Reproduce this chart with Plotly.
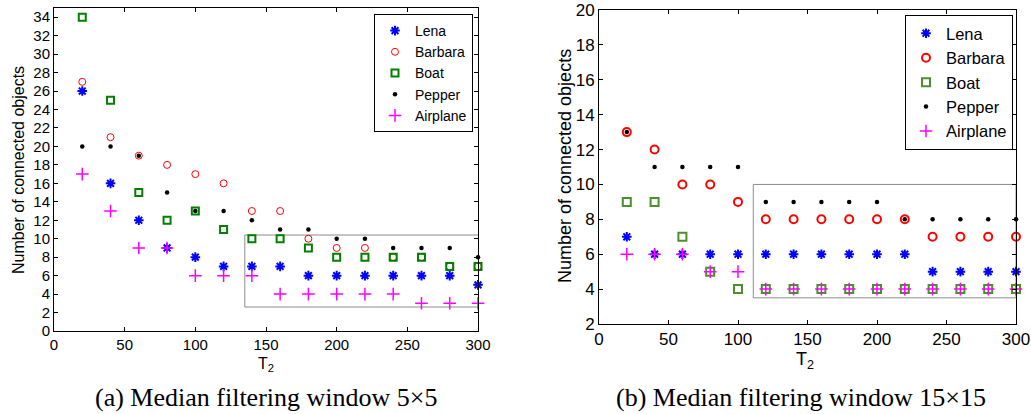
import plotly.graph_objects as go

# ---------------- data ----------------
t2 = [20, 40, 60, 80, 100, 120, 140, 160, 180, 200, 220, 240, 260, 280, 300]

# (a) Median filtering window 5x5
a_lena     = [26, 16, 12, 9, 8, 7, 7, 7, 6, 6, 6, 6, 6, 6, 5]
a_barbara  = [27, 21, 19, 18, 17, 16, 13, 13, 10, 9, 9, 8, 8, 7, 7]
a_boat     = [34, 25, 15, 12, 13, 11, 10, 10, 9, 8, 8, 8, 8, 7, 7]
a_pepper   = [20, 20, 19, 15, 13, 13, 12, 11, 11, 10, 10, 9, 9, 9, 8]
a_airplane = [17, 13, 9, 9, 6, 6, 6, 4, 4, 4, 4, 4, 3, 3, 3]

# (b) Median filtering window 15x15
b_lena     = [7, 6, 6, 6, 6, 6, 6, 6, 6, 6, 6, 5, 5, 5, 5]
b_barbara  = [13, 12, 10, 10, 9, 8, 8, 8, 8, 8, 8, 7, 7, 7, 7]
b_boat     = [9, 9, 7, 5, 4, 4, 4, 4, 4, 4, 4, 4, 4, 4, 4]
b_pepper   = [13, 11, 11, 11, 11, 9, 9, 9, 9, 9, 8, 8, 8, 8, 8]
b_airplane = [6, 6, 6, 5, 5, 4, 4, 4, 4, 4, 4, 4, 4, 4, 4]

names = ["Lena", "Barbara", "Boat", "Pepper", "Airplane"]
x_ticks = [0, 50, 100, 150, 200, 250, 300]
a_y_ticks = list(range(0, 35, 2))
b_y_ticks = list(range(2, 21, 2))

captions = ["(a) Median filtering window 5×5", "(b) Median filtering window 15×15"]

# zoom boxes drawn on the panels (x0, x1, y0, y1)
a_box = (135, 302, 2.6, 10.4)
b_box = (111, 300, 3.5, 10.0)

# ---------------- styles ----------------
def styles(panel):
    if panel == "a":
        return [
            dict(symbol="asterisk-open", size=8, color="blue", line=dict(color="blue", width=2)),
            dict(symbol="circle-open", size=7, color="red", line=dict(color="red", width=1)),
            dict(symbol="square-open", size=7, color="#008000", line=dict(color="#008000", width=2)),
            dict(symbol="circle", size=4.5, color="black"),
            dict(symbol="cross-thin-open", size=9, color="magenta", line=dict(color="magenta", width=1.5)),
        ]
    return [
        dict(symbol="asterisk-open", size=8, color="blue", line=dict(color="blue", width=2)),
        dict(symbol="circle-open", size=8, color="red", line=dict(color="red", width=2)),
        dict(symbol="square-open", size=8, color="#4d8f2d", line=dict(color="#4d8f2d", width=2)),
        dict(symbol="circle", size=4.5, color="black"),
        dict(symbol="cross-thin-open", size=9, color="magenta", line=dict(color="magenta", width=1.5)),
    ]

fig = go.Figure()

a_series = [a_lena, a_barbara, a_boat, a_pepper, a_airplane]
b_series = [b_lena, b_barbara, b_boat, b_pepper, b_airplane]

for name, ys, st in zip(names, a_series, styles("a")):
    fig.add_trace(go.Scatter(x=t2, y=ys, mode="markers", name=name, marker=st,
                             xaxis="x", yaxis="y", legend="legend", cliponaxis=False))
for name, ys, st in zip(names, b_series, styles("b")):
    fig.add_trace(go.Scatter(x=t2, y=ys, mode="markers", name=name, marker=st,
                             xaxis="x2", yaxis="y2", legend="legend2", cliponaxis=False))

W, H = 1031, 414

def px(x):
    return x / W

def py(y):
    return (H - y) / H

axis_common = dict(showline=True, linecolor="black", linewidth=1, mirror="ticks",
                   ticks="inside", ticklen=4, tickcolor="black", showgrid=False,
                   zeroline=False, automargin=False, ticklabeloverflow="allow")

fig.update_layout(
    template="none",
    width=W, height=H,
    margin=dict(l=0, r=0, t=0, b=0, pad=0, autoexpand=False),
    paper_bgcolor="white", plot_bgcolor="white",
    font=dict(family="Liberation Sans, Arial", color="black"),
    xaxis=dict(domain=[px(54), px(478)], range=[0, 300], tickvals=x_ticks,
               tickfont=dict(size=15), anchor="y", **axis_common),
    yaxis=dict(domain=[py(331), py(8)], range=[0, 35], tickvals=a_y_ticks,
               tickfont=dict(size=15), anchor="x", **axis_common),
    xaxis2=dict(domain=[px(599), px(1016)], range=[0, 300], tickvals=x_ticks,
                tickfont=dict(size=17), anchor="y2", **axis_common),
    yaxis2=dict(domain=[py(324), py(10)], range=[2, 20], tickvals=b_y_ticks,
                tickfont=dict(size=17), anchor="x2", **axis_common),
    legend=dict(x=px(473), y=py(14), xanchor="right", yanchor="top",
                bordercolor="black", borderwidth=1, bgcolor="white",
                font=dict(size=14), tracegroupgap=0),
    legend2=dict(x=px(1013), y=py(15), xanchor="right", yanchor="top",
                 bordercolor="black", borderwidth=1, bgcolor="white",
                 font=dict(size=16.5), tracegroupgap=0),
    showlegend=True,
)

for (x0, x1, y0, y1), xr, yr in [(a_box, "x", "y"), (b_box, "x2", "y2")]:
    fig.add_shape(type="rect", xref=xr, yref=yr, x0=x0, x1=x1, y0=y0, y1=y1,
                  line=dict(color="#8c8c8c", width=1), layer="below")

def note(text, x, y, size, angle=0, family=None):
    f = dict(size=size)
    if family:
        f["family"] = family
    return dict(text=text, x=px(x), y=py(y), xref="paper", yref="paper",
                xanchor="center", yanchor="middle", showarrow=False,
                textangle=angle, font=f)

serif = "Liberation Serif, Times New Roman"
ann = [
    note("T<sub>2</sub>", 266, 364, 16),
    note("T<sub>2</sub>", 805, 360, 18),
    note("Number of connected objects", 18, 170, 16, angle=-90),
    note("Number of connected objects", 565, 166, 18, angle=-90),
    note(captions[0], 266, 397, 26, family=serif),
    note(captions[1], 801, 397, 26, family=serif),
]
fig.update_layout(annotations=ann)

fig.write_html("out.html",
               config={"displayModeBar": False},
               post_script="document.body.style.margin='0px';"
                           "document.body.style.overflow='hidden';")
